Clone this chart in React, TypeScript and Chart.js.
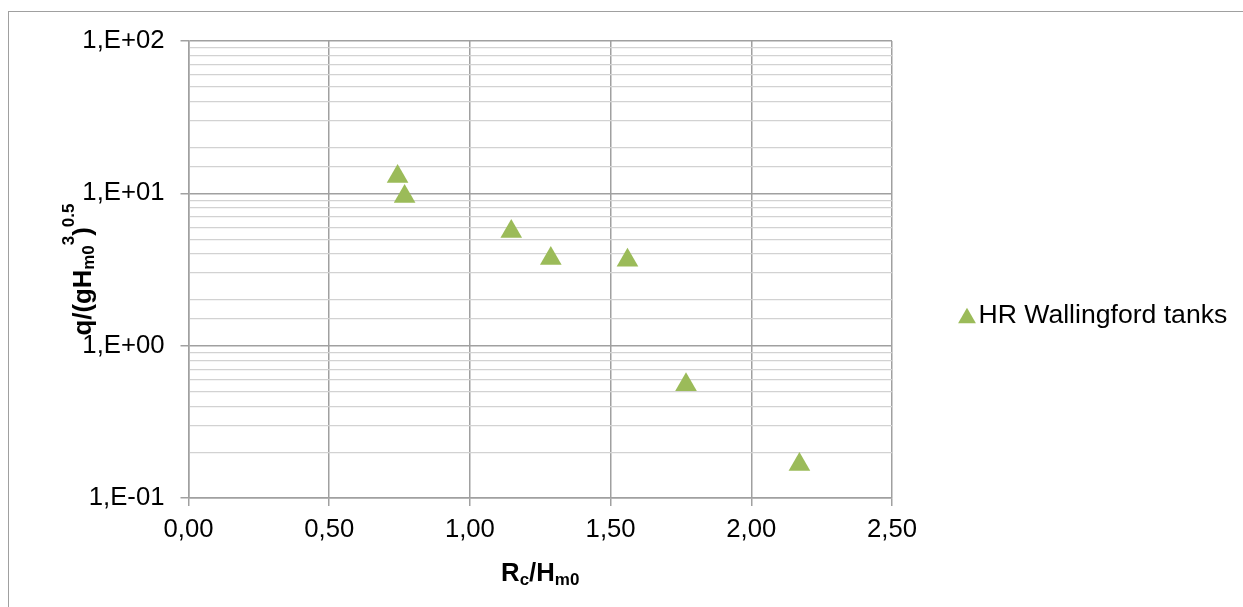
import React, { useEffect, useRef } from "react";
import { Chart, registerables } from "chart.js";

Chart.register(...registerables);

const seriesName = "HR Wallingford tanks";
const xValues = [0.743, 0.768, 1.147, 1.2875, 1.56, 1.768, 2.171];
const yValues = [12.9, 9.53, 5.62, 3.735, 3.64, 0.553, 0.166];
const xTickLabels = ["0,00", "0,50", "1,00", "1,50", "2,00", "2,50"];
const yTickLabels = ["1,E-01", "1,E+00", "1,E+01", "1,E+02"];

const FONT = "'Liberation Sans', Arial, sans-serif";
const BASE = 25.7;
const LEGEND_SIZE = 26.6;
const SMALL = 17;
const MAJOR = "#a0a0a0";
const MINOR = "#d2d2d2";
const GREEN = "#9BBB59";

const isPow10 = (v: number) => Math.abs(Math.log10(v) - Math.round(Math.log10(v))) < 1e-6;

type Seg = { t: string; small?: boolean; dy?: number };

function segWidth(ctx: CanvasRenderingContext2D, segs: Seg[]) {
  let w = 0;
  for (const s of segs) {
    ctx.font = `bold ${s.small ? SMALL : BASE}px ${FONT}`;
    w += ctx.measureText(s.t).width;
  }
  return w;
}

function drawRich(ctx: CanvasRenderingContext2D, segs: Seg[], cx: number, baseY: number) {
  const w = segWidth(ctx, segs);
  let x = cx - w / 2;
  ctx.fillStyle = "#000";
  ctx.textBaseline = "alphabetic";
  ctx.textAlign = "left";
  for (const s of segs) {
    ctx.font = `bold ${s.small ? SMALL : BASE}px ${FONT}`;
    ctx.fillText(s.t, x, baseY + (s.dy || 0));
    x += ctx.measureText(s.t).width;
  }
}

const titlesPlugin = {
  id: "titlesAndLegend",
  afterDraw(chart: any) {
    const ctx: CanvasRenderingContext2D = chart.ctx;
    const a = chart.chartArea;
    ctx.save();
    // x title
    drawRich(
      ctx,
      [{ t: "R" }, { t: "c", small: true, dy: 4.5 }, { t: "/H" }, { t: "m0", small: true, dy: 4.5 }],
      (a.left + a.right) / 2,
      a.bottom + 82.5
    );
    // y title
    ctx.save();
    ctx.translate(a.left - 97.5, (a.top + a.bottom) / 2);
    ctx.rotate(-Math.PI / 2);
    drawRich(
      ctx,
      [
        { t: "q/(gH" },
        { t: "m0", small: true, dy: 3 },
        { t: "3", small: true, dy: -17.5 },
        { t: ")" },
        { t: "0.5", small: true, dy: -17.5 },
      ],
      0,
      0
    );
    ctx.restore();
    // legend
    const lx = a.right + 75;
    const ly = 310;
    const r = 10.3;
    ctx.fillStyle = GREEN;
    ctx.beginPath();
    ctx.moveTo(lx, ly - r);
    ctx.lineTo(lx + r * Math.sin((2 * Math.PI) / 3), ly - r * Math.cos((2 * Math.PI) / 3));
    ctx.lineTo(lx + r * Math.sin((4 * Math.PI) / 3), ly - r * Math.cos((4 * Math.PI) / 3));
    ctx.closePath();
    ctx.fill();
    ctx.fillStyle = "#000";
    ctx.font = `${LEGEND_SIZE}px ${FONT}`;
    ctx.textAlign = "left";
    ctx.textBaseline = "alphabetic";
    ctx.fillText(seriesName, lx + 11.5, 315);
    ctx.restore();
  },
};

export default function App() {
  const ref = useRef<HTMLCanvasElement | null>(null);
  useEffect(() => {
    if (!ref.current) return;
    const chart = new Chart(ref.current, {
      type: "scatter",
      data: {
        datasets: [
          {
            label: seriesName,
            data: xValues.map((x, i) => ({ x, y: yValues[i] })),
            pointStyle: "triangle",
            pointRadius: 12.5,
            pointHoverRadius: 12.5,
            backgroundColor: GREEN,
            borderColor: GREEN,
            borderWidth: 0,
          },
        ],
      },
      plugins: [titlesPlugin],
      options: {
        animation: false,
        responsive: false,
        maintainAspectRatio: false,
        events: [],
        layout: { padding: { top: 33, right: 343, left: 0, bottom: 0 } },
        plugins: {
          legend: { display: false },
          tooltip: { enabled: false },
          title: { display: false },
        },
        scales: {
          x: {
            type: "linear",
            min: 0,
            max: 2.5,
            afterFit: (s: any) => {
              s.height = 101;
            },
            ticks: {
              stepSize: 0.5,
              padding: 8,
              color: "#000",
              font: { family: FONT, size: BASE },
              maxRotation: 0,
              autoSkip: false,
              callback: (v: any, i: number) => xTickLabels[i] ?? "",
            },
            grid: { color: MAJOR, tickColor: MAJOR, tickLength: 8, lineWidth: 1.5 },
            border: { color: MAJOR, width: 1.5 },
          },
          y: {
            type: "logarithmic",
            min: 0.1,
            max: 100,
            afterFit: (s: any) => {
              s.width = 180.5;
            },
            ticks: {
              padding: 16,
              color: "#000",
              autoSkip: false,
              font: { family: FONT, size: BASE },
              callback: (v: any) => {
                const n = Number(v);
                if (!isPow10(n)) return "";
                const e = Math.round(Math.log10(n));
                return yTickLabels[e + 1] ?? "";
              },
            },
            grid: {
              color: (c: any) => (c.tick && isPow10(c.tick.value) ? MAJOR : MINOR),
              tickColor: (c: any) => (c.tick && isPow10(c.tick.value) ? MAJOR : "rgba(0,0,0,0)"),
              tickLength: 8,
              lineWidth: (c: any) => (c.tick && isPow10(c.tick.value) ? 1.5 : 1.25),
            },
            border: { color: MAJOR, width: 1.5 },
          },
        },
      } as any,
    });
    return () => chart.destroy();
  }, []);

  return (
    <div style={{ position: "relative", width: 1227, height: 591, overflow: "hidden" }}>
      <div
        style={{
          position: "fixed",
          left: 7.5,
          top: 11,
          width: 1300,
          height: 700,
          borderTop: "1.5px solid #a0a0a0",
          borderLeft: "1.5px solid #a0a0a0",
          pointerEvents: "none",
        }}
      />
      <canvas
        ref={ref}
        width={1227}
        height={591}
        style={{ position: "absolute", left: 0, top: 0, width: 1227, height: 591 }}
      />
    </div>
  );
}
